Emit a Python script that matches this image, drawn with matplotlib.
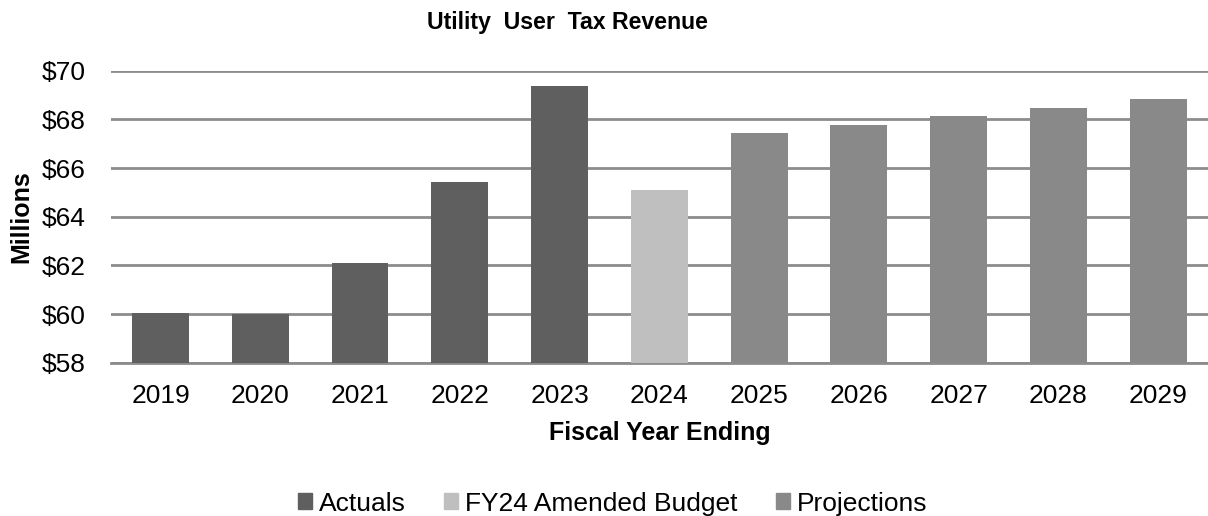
import matplotlib
matplotlib.use("Agg")
import matplotlib.pyplot as plt
from matplotlib.patches import Patch
from matplotlib.ticker import FuncFormatter

plt.rcParams['font.family'] = ['Liberation Sans', 'DejaVu Sans']

years = ['2019', '2020', '2021', '2022', '2023', '2024',
         '2025', '2026', '2027', '2028', '2029']
revenue = [60.05, 60.0, 62.08, 65.44, 69.36, 65.09,
           67.45, 67.78, 68.14, 68.45, 68.83]
kinds = ['Actuals'] * 5 + ['FY24 Amended Budget'] + ['Projections'] * 5

colors = {'Actuals': '#5f5f5f',
          'FY24 Amended Budget': '#bfbfbf',
          'Projections': '#898989'}

fig = plt.figure(figsize=(12.08, 5.16), dpi=100)
ax = fig.add_axes([0.0916, 0.297, 0.9084, 0.566])

x = range(len(years))
bottom = 58
ax.bar(x, [v - bottom for v in revenue], bottom=bottom, width=0.57,
       color=[colors[k] for k in kinds], zorder=3)

ax.set_xlim(-0.5, len(years) - 0.5)
ax.set_ylim(58, 70)
ax.set_yticks(range(58, 71, 2))
ax.yaxis.set_major_formatter(FuncFormatter(lambda v, p: f'${v:.0f}'))
ax.set_xticks(list(x))
ax.set_xticklabels(years)
ax.grid(axis='y', color='#8c8c8c', linewidth=2, zorder=0)
for s in ['top', 'right', 'left']:
    ax.spines[s].set_visible(False)
ax.spines['bottom'].set_color('#8c8c8c')
ax.spines['bottom'].set_linewidth(2)
ax.tick_params(length=0, labelsize=19, colors='black')
ax.tick_params(axis='y', pad=18)
ax.tick_params(axis='x', pad=15)

ax.set_xlabel('Fiscal Year Ending', fontsize=18, fontweight='bold', labelpad=10)
ax.set_ylabel('Millions', fontsize=18, fontweight='bold', labelpad=6)
fig.text(0.47, 0.957, 'Utility  User  Tax Revenue', ha='center', va='center',
         fontsize=16.7, fontweight='bold')

handles = [Patch(color=colors[k], label=k) for k in colors]
fig.legend(handles=handles, loc='center', bbox_to_anchor=(0.507, 0.024),
           ncol=3, frameon=False, fontsize=19, handlelength=0.55,
           handleheight=0.55, handletextpad=0.25, columnspacing=1.45,
           borderpad=0, borderaxespad=0)

fig.savefig('out.png', dpi=100)
